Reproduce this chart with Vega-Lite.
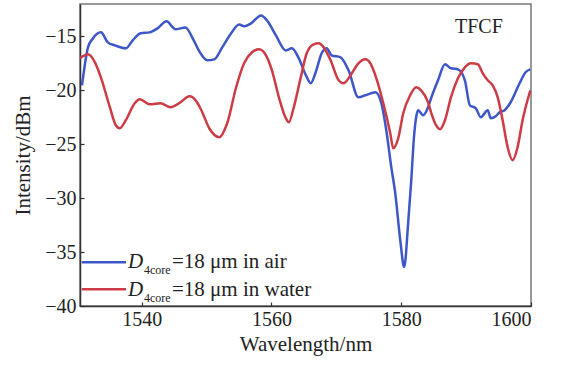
{
  "$schema": "https://vega.github.io/schema/vega-lite/v6.json",
  "width": 451,
  "height": 302,
  "autosize": {"type": "none"},
  "padding": {"left": 80, "top": 4, "right": 31, "bottom": 59},
  "background": "white",
  "config": {
    "font": "Liberation Serif",
    "view": {"stroke": "#777", "strokeWidth": 1.5},
    "axis": {
      "grid": false,
      "domainColor": "#333",
      "domainWidth": 1.5,
      "tickColor": "#333",
      "tickSize": -4,
      "tickWidth": 1.2
    }
  },
  "datasets": {
    "spectra": [
      {"series": "air", "wl": 1530.81, "dbm": -19.54},
      {"series": "air", "wl": 1531.73, "dbm": -16.02},
      {"series": "air", "wl": 1532.49, "dbm": -15.19},
      {"series": "air", "wl": 1533.72, "dbm": -14.63},
      {"series": "air", "wl": 1534.79, "dbm": -15.56},
      {"series": "air", "wl": 1535.86, "dbm": -15.83},
      {"series": "air", "wl": 1537.55, "dbm": -16.11},
      {"series": "air", "wl": 1538.62, "dbm": -15.37},
      {"series": "air", "wl": 1539.85, "dbm": -14.72},
      {"series": "air", "wl": 1541.23, "dbm": -14.63},
      {"series": "air", "wl": 1542.45, "dbm": -14.26},
      {"series": "air", "wl": 1543.83, "dbm": -13.61},
      {"series": "air", "wl": 1545.21, "dbm": -14.35},
      {"series": "air", "wl": 1546.74, "dbm": -14.17},
      {"series": "air", "wl": 1547.97, "dbm": -15.3},
      {"series": "air", "wl": 1548.89, "dbm": -16.4},
      {"series": "air", "wl": 1550.12, "dbm": -17.22},
      {"series": "air", "wl": 1551.19, "dbm": -17.13},
      {"series": "air", "wl": 1552.42, "dbm": -16.02},
      {"series": "air", "wl": 1553.79, "dbm": -14.72},
      {"series": "air", "wl": 1555.02, "dbm": -13.89},
      {"series": "air", "wl": 1555.79, "dbm": -14.07},
      {"series": "air", "wl": 1556.86, "dbm": -13.8},
      {"series": "air", "wl": 1558.39, "dbm": -13.06},
      {"series": "air", "wl": 1559.31, "dbm": -13.52},
      {"series": "air", "wl": 1560.69, "dbm": -14.91},
      {"series": "air", "wl": 1562.22, "dbm": -16.3},
      {"series": "air", "wl": 1563.14, "dbm": -16.11},
      {"series": "air", "wl": 1564.22, "dbm": -17.04},
      {"series": "air", "wl": 1565.3, "dbm": -18.6},
      {"series": "air", "wl": 1566.06, "dbm": -19.35},
      {"series": "air", "wl": 1566.82, "dbm": -18.33},
      {"series": "air", "wl": 1567.74, "dbm": -16.57},
      {"series": "air", "wl": 1568.51, "dbm": -16.11},
      {"series": "air", "wl": 1569.27, "dbm": -16.76},
      {"series": "air", "wl": 1570.65, "dbm": -16.94},
      {"series": "air", "wl": 1571.88, "dbm": -18.15},
      {"series": "air", "wl": 1573.41, "dbm": -20.65},
      {"series": "air", "wl": 1574.48, "dbm": -20.46},
      {"series": "air", "wl": 1576.02, "dbm": -20.19},
      {"series": "air", "wl": 1576.94, "dbm": -21.2},
      {"series": "air", "wl": 1577.7, "dbm": -23.7},
      {"series": "air", "wl": 1578.47, "dbm": -27.13},
      {"series": "air", "wl": 1579.08, "dbm": -29.54},
      {"series": "air", "wl": 1579.85, "dbm": -33.89},
      {"series": "air", "wl": 1580.46, "dbm": -36.39},
      {"series": "air", "wl": 1581.07, "dbm": -32.31},
      {"series": "air", "wl": 1581.53, "dbm": -28.5},
      {"series": "air", "wl": 1581.99, "dbm": -24.17},
      {"series": "air", "wl": 1582.3, "dbm": -22.5},
      {"series": "air", "wl": 1582.61, "dbm": -21.85},
      {"series": "air", "wl": 1583.37, "dbm": -22.31},
      {"series": "air", "wl": 1584.14, "dbm": -21.57},
      {"series": "air", "wl": 1584.6, "dbm": -20.74},
      {"series": "air", "wl": 1585.67, "dbm": -19.07},
      {"series": "air", "wl": 1586.74, "dbm": -17.59},
      {"series": "air", "wl": 1587.66, "dbm": -17.96},
      {"series": "air", "wl": 1588.74, "dbm": -18.06},
      {"series": "air", "wl": 1589.81, "dbm": -19.07},
      {"series": "air", "wl": 1590.58, "dbm": -21.39},
      {"series": "air", "wl": 1591.5, "dbm": -21.67},
      {"series": "air", "wl": 1592.26, "dbm": -22.5},
      {"series": "air", "wl": 1593.33, "dbm": -21.85},
      {"series": "air", "wl": 1593.8, "dbm": -22.59},
      {"series": "air", "wl": 1594.56, "dbm": -22.41},
      {"series": "air", "wl": 1595.17, "dbm": -22.04},
      {"series": "air", "wl": 1595.94, "dbm": -21.85},
      {"series": "air", "wl": 1596.86, "dbm": -21.11},
      {"series": "air", "wl": 1598.24, "dbm": -19.35},
      {"series": "air", "wl": 1599.16, "dbm": -18.33},
      {"series": "air", "wl": 1599.9, "dbm": -18.06},
      {"series": "water", "wl": 1530.5, "dbm": -17.04},
      {"series": "water", "wl": 1531.73, "dbm": -16.67},
      {"series": "water", "wl": 1532.8, "dbm": -17.41},
      {"series": "water", "wl": 1533.72, "dbm": -18.8},
      {"series": "water", "wl": 1535.1, "dbm": -21.57},
      {"series": "water", "wl": 1536.02, "dbm": -23.24},
      {"series": "water", "wl": 1536.63, "dbm": -23.52},
      {"series": "water", "wl": 1537.55, "dbm": -22.78},
      {"series": "water", "wl": 1538.93, "dbm": -21.2},
      {"series": "water", "wl": 1539.7, "dbm": -20.83},
      {"series": "water", "wl": 1541.23, "dbm": -21.3},
      {"series": "water", "wl": 1542.91, "dbm": -21.2},
      {"series": "water", "wl": 1544.45, "dbm": -21.57},
      {"series": "water", "wl": 1545.98, "dbm": -21.11},
      {"series": "water", "wl": 1547.36, "dbm": -20.56},
      {"series": "water", "wl": 1548.43, "dbm": -21.02},
      {"series": "water", "wl": 1549.2, "dbm": -21.85},
      {"series": "water", "wl": 1550.42, "dbm": -23.52},
      {"series": "water", "wl": 1551.96, "dbm": -24.35},
      {"series": "water", "wl": 1553.18, "dbm": -23.06},
      {"series": "water", "wl": 1554.56, "dbm": -19.72},
      {"series": "water", "wl": 1555.79, "dbm": -17.5},
      {"series": "water", "wl": 1557.01, "dbm": -16.48},
      {"series": "water", "wl": 1558.09, "dbm": -16.2},
      {"series": "water", "wl": 1559.16, "dbm": -16.76},
      {"series": "water", "wl": 1560.08, "dbm": -18.15},
      {"series": "water", "wl": 1561.15, "dbm": -20.65},
      {"series": "water", "wl": 1562.22, "dbm": -22.59},
      {"series": "water", "wl": 1562.68, "dbm": -22.96},
      {"series": "water", "wl": 1563.45, "dbm": -21.57},
      {"series": "water", "wl": 1564.52, "dbm": -18.8},
      {"series": "water", "wl": 1565.44, "dbm": -16.57},
      {"series": "water", "wl": 1566.51, "dbm": -15.75},
      {"series": "water", "wl": 1567.28, "dbm": -15.65},
      {"series": "water", "wl": 1568.05, "dbm": -16.02},
      {"series": "water", "wl": 1569.12, "dbm": -17.22},
      {"series": "water", "wl": 1570.35, "dbm": -19.07},
      {"series": "water", "wl": 1571.11, "dbm": -19.35},
      {"series": "water", "wl": 1572.19, "dbm": -18.61},
      {"series": "water", "wl": 1573.41, "dbm": -17.5},
      {"series": "water", "wl": 1574.48, "dbm": -17.13},
      {"series": "water", "wl": 1575.25, "dbm": -17.5},
      {"series": "water", "wl": 1576.17, "dbm": -18.89},
      {"series": "water", "wl": 1577.24, "dbm": -21.2},
      {"series": "water", "wl": 1578.31, "dbm": -23.98},
      {"series": "water", "wl": 1578.77, "dbm": -25.37},
      {"series": "water", "wl": 1579.54, "dbm": -24.44},
      {"series": "water", "wl": 1580.31, "dbm": -22.13},
      {"series": "water", "wl": 1581.38, "dbm": -20.46},
      {"series": "water", "wl": 1582.3, "dbm": -19.72},
      {"series": "water", "wl": 1583.07, "dbm": -20.0},
      {"series": "water", "wl": 1584.14, "dbm": -21.11},
      {"series": "water", "wl": 1584.6, "dbm": -22.04},
      {"series": "water", "wl": 1585.37, "dbm": -23.24},
      {"series": "water", "wl": 1585.98, "dbm": -23.61},
      {"series": "water", "wl": 1586.74, "dbm": -22.78},
      {"series": "water", "wl": 1587.66, "dbm": -20.65},
      {"series": "water", "wl": 1588.74, "dbm": -18.89},
      {"series": "water", "wl": 1589.81, "dbm": -17.87},
      {"series": "water", "wl": 1590.73, "dbm": -17.5},
      {"series": "water", "wl": 1591.8, "dbm": -17.59},
      {"series": "water", "wl": 1592.57, "dbm": -18.43},
      {"series": "water", "wl": 1593.33, "dbm": -19.07},
      {"series": "water", "wl": 1594.1, "dbm": -19.54},
      {"series": "water", "wl": 1594.87, "dbm": -20.65},
      {"series": "water", "wl": 1595.63, "dbm": -22.78},
      {"series": "water", "wl": 1596.4, "dbm": -25.28},
      {"series": "water", "wl": 1597.17, "dbm": -26.48},
      {"series": "water", "wl": 1597.93, "dbm": -25.28},
      {"series": "water", "wl": 1598.7, "dbm": -22.78},
      {"series": "water", "wl": 1599.9, "dbm": -20.0}
    ],
    "one": [{}]
  },
  "layer": [
    {
      "data": {"name": "spectra"},
      "mark": {"type": "line", "strokeWidth": 2.5, "interpolate": "monotone", "clip": true},
      "encoding": {
        "x": {
          "field": "wl", "type": "quantitative",
          "scale": {"domain": [1530.5, 1600], "nice": false, "zero": false},
          "axis": {"values": [1540, 1560, 1580, 1600], "title": "Wavelength/nm", "format": "d",
                   "labelFont": "Liberation Serif", "labelFontSize": 20, "labelColor": "#222", "labelPadding": 7,
                   "titleFont": "Liberation Serif", "titleFontSize": 21, "titleFontWeight": "normal", "titleColor": "#222", "titlePadding": 4}
        },
        "y": {
          "field": "dbm", "type": "quantitative",
          "scale": {"domain": [-40, -12], "nice": false, "zero": false},
          "axis": {"values": [-40, -35, -30, -25, -20, -15], "title": "Intensity/dBm",
                   "labelFont": "Liberation Serif", "labelFontSize": 20, "labelColor": "#222", "labelPadding": 8,
                   "titleFont": "Liberation Serif", "titleFontSize": 21, "titleFontWeight": "normal", "titleColor": "#222", "titlePadding": 11}
        },
        "color": {
          "field": "series", "type": "nominal",
          "scale": {"domain": ["air", "water"], "range": ["#3d56c8", "#cd3b45"]},
          "legend": null
        }
      }
    },
    {
      "data": {"name": "one"},
      "mark": {"type": "rule", "strokeWidth": 2.5, "color": "#3d56c8"},
      "encoding": {"x": {"datum": 1530.76}, "x2": {"datum": 1537.59}, "y": {"datum": -35.95}}
    },
    {
      "data": {"name": "one"},
      "mark": {"type": "rule", "strokeWidth": 2.5, "color": "#cd3b45"},
      "encoding": {"x": {"datum": 1530.76}, "x2": {"datum": 1537.59}, "y": {"datum": -38.45}}
    },
    {
      "data": {"name": "one"},
      "mark": {"type": "text", "text": "D", "font": "Liberation Serif", "fontStyle": "italic", "fontSize": 21, "align": "left", "baseline": "alphabetic", "color": "#222"},
      "encoding": {"x": {"datum": 1537.9}, "y": {"datum": -36.5}}
    },
    {
      "data": {"name": "one"},
      "mark": {"type": "text", "text": "4core", "font": "Liberation Serif", "fontSize": 12, "align": "left", "baseline": "alphabetic", "color": "#222"},
      "encoding": {"x": {"datum": 1540.36}, "y": {"datum": -37.03}}
    },
    {
      "data": {"name": "one"},
      "mark": {"type": "text", "text": "=18 μm in air", "font": "Liberation Serif", "fontSize": 21, "align": "left", "baseline": "alphabetic", "color": "#222"},
      "encoding": {"x": {"datum": 1544.68}, "y": {"datum": -36.5}}
    },
    {
      "data": {"name": "one"},
      "mark": {"type": "text", "text": "D", "font": "Liberation Serif", "fontStyle": "italic", "fontSize": 21, "align": "left", "baseline": "alphabetic", "color": "#222"},
      "encoding": {"x": {"datum": 1537.9}, "y": {"datum": -39.07}}
    },
    {
      "data": {"name": "one"},
      "mark": {"type": "text", "text": "4core", "font": "Liberation Serif", "fontSize": 12, "align": "left", "baseline": "alphabetic", "color": "#222"},
      "encoding": {"x": {"datum": 1540.36}, "y": {"datum": -39.6}}
    },
    {
      "data": {"name": "one"},
      "mark": {"type": "text", "text": "=18 μm in water", "font": "Liberation Serif", "fontSize": 21, "align": "left", "baseline": "alphabetic", "color": "#222"},
      "encoding": {"x": {"datum": 1544.68}, "y": {"datum": -39.07}}
    },
    {
      "data": {"name": "one"},
      "mark": {"type": "text", "text": "TFCF", "font": "Liberation Serif", "fontSize": 20, "align": "left", "baseline": "alphabetic", "color": "#222"},
      "encoding": {"x": {"datum": 1588.28}, "y": {"datum": -14.7}}
    }
  ]
}
